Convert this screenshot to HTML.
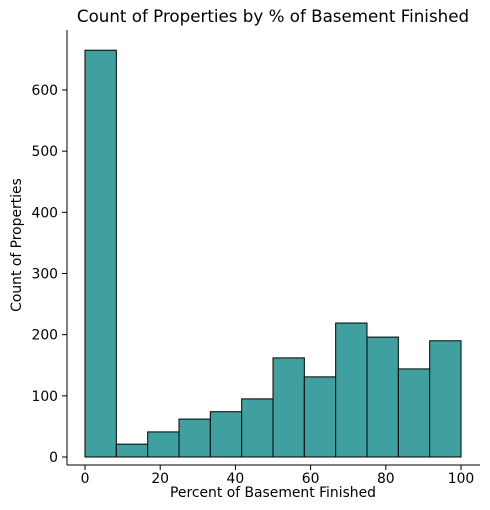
<!DOCTYPE html>
<html><head><meta charset="utf-8"><style>
html,body{margin:0;padding:0;background:#fff;}
svg{display:block;font-family:"DejaVu Sans","Liberation Sans",sans-serif;}
</style></head><body>
<svg id="chart" width="490" height="510" viewBox="0 0 490 510">
<text x="273" y="22" font-size="16.7" text-anchor="middle" fill="#000">Count of Properties by % of Basement Finished</text>
<g id="bars"></g>
<g id="xticks"></g>
<g id="yticks"></g>
<line x1="67" y1="30" x2="67" y2="465" stroke="#000" stroke-width="1"/>
<line x1="67" y1="465" x2="480" y2="465" stroke="#000" stroke-width="1"/>
<text x="273" y="497" font-size="13.9" text-anchor="middle">Percent of Basement Finished</text>
<text x="21" y="245" font-size="13.9" text-anchor="middle" transform="rotate(-90 21 245)">Count of Properties</text>
</svg>
<script>
const binStarts = [0, 8.333, 16.667, 25, 33.333, 41.667, 50, 58.333, 66.667, 75, 83.333, 91.667];
const counts = [665, 21, 41, 62, 74, 95, 162, 131, 219, 196, 144, 190];
const binWidth = 8.333;
const xTicks = [0, 20, 40, 60, 80, 100];
const yTicks = [0, 100, 200, 300, 400, 500, 600];

const NS = "http://www.w3.org/2000/svg";
function xs(v){ return 85 + v * 3.76; }
function ys(v){ return 457 - v * 0.6117; }

const bars = document.getElementById('bars');
counts.forEach((c, i) => {
  const r = document.createElementNS(NS, 'rect');
  const x0 = xs(binStarts[i]), x1 = xs(binStarts[i] + binWidth);
  r.setAttribute('x', x0);
  r.setAttribute('y', ys(c));
  r.setAttribute('width', x1 - x0);
  r.setAttribute('height', ys(0) - ys(c));
  r.setAttribute('fill', '#40a0a0');
  r.setAttribute('stroke', '#000');
  r.setAttribute('stroke-width', '1');
  
  
  bars.appendChild(r);
});

const xg = document.getElementById('xticks');
xTicks.forEach(t => {
  const l = document.createElementNS(NS, 'line');
  l.setAttribute('x1', xs(t)); l.setAttribute('x2', xs(t));
  l.setAttribute('y1', 465); l.setAttribute('y2', 470);
  l.setAttribute('stroke', '#000');
  
  
  xg.appendChild(l);
  const tx = document.createElementNS(NS, 'text');
  tx.setAttribute('x', xs(t)); tx.setAttribute('y', 483);
  tx.setAttribute('font-size', '13.9'); tx.setAttribute('text-anchor', 'middle');
  tx.textContent = t;
  
  
  xg.appendChild(tx);
});

const yg = document.getElementById('yticks');
yTicks.forEach(t => {
  const l = document.createElementNS(NS, 'line');
  l.setAttribute('x1', 62); l.setAttribute('x2', 67);
  l.setAttribute('y1', ys(t)); l.setAttribute('y2', ys(t));
  l.setAttribute('stroke', '#000');
  
  
  yg.appendChild(l);
  const tx = document.createElementNS(NS, 'text');
  tx.setAttribute('x', 58); tx.setAttribute('y', ys(t) + 5);
  tx.setAttribute('font-size', '13.9'); tx.setAttribute('text-anchor', 'end');
  tx.textContent = t;
  
  
  yg.appendChild(tx);
});
</script>
</body></html>
